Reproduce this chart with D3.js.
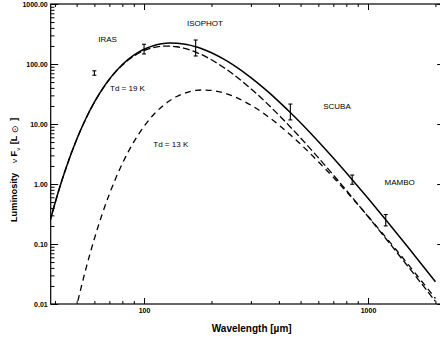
<!DOCTYPE html>
<html>
<head>
<meta charset="utf-8">
<script src="https://cdn.jsdelivr.net/npm/d3@7"></script>
<style>
  html, body { margin: 0; padding: 0; background: #fff; overflow: hidden; }
  svg { display: block; font-family: "Liberation Sans", Arial, Helvetica, sans-serif; }
</style>
</head>
<body>
<svg id="chart" width="440" height="339"></svg>
<script>
// Wavelength grid (µm) at which the SED curves are sampled
const wavelengths = [38, 40, 42, 45, 50, 55, 60, 65, 70, 80, 90, 100, 110, 120, 130, 140, 150, 160,
  170, 180, 200, 225, 250, 300, 350, 400, 450, 500, 600, 700, 800, 850, 1000, 1200, 1500, 2000];

// Total luminosity (sum of both dust components)
const totalSED = [0.238, 0.474, 0.873, 1.92, 5.50, 12.33, 23.07, 37.77, 55.89, 98.0, 140.3, 176.1, 201.7,
  217.2, 223.4, 222.5, 216.2, 206.4, 194.3, 181.1, 154.0, 122.7, 96.6, 59.38, 37.01, 23.64, 15.52,
  10.46, 5.106, 2.705, 1.533, 1.179, 0.577, 0.2531, 0.0906, 0.02341];

// Warm component, Td = 19 K
const warmSED = [0.238, 0.474, 0.873, 1.92, 5.49, 12.29, 22.95, 37.46, 55.21, 95.8, 135.3, 167.0, 187.6,
  197.8, 199.0, 193.8, 184.0, 171.8, 158.1, 144.2, 117.7, 89.4, 67.5, 38.77, 22.91, 14.04, 8.92,
  5.86, 2.746, 1.414, 0.785, 0.598, 0.287, 0.1235, 0.0434, 0.01106];

// Cold component, Td = 13 K
const coldSED = [0.000044, 0.000138, 0.000384, 0.00147, 0.00914, 0.0386, 0.1224, 0.313, 0.677, 2.193,
  5.03, 9.15, 14.13, 19.38, 24.38, 28.73, 32.17, 34.65, 36.21, 36.87, 36.31, 33.26, 29.05, 20.61,
  14.10, 9.60, 6.60, 4.61, 2.360, 1.291, 0.748, 0.581, 0.290, 0.1296, 0.0472, 0.01235];

// Photometry with error bars
const obsWavelength = [60, 100, 170, 450, 850, 1200];
const obsLow  = [65, 147, 136, 11.7, 0.99, 0.20];
const obsHigh = [77, 213, 251, 21.5, 1.41, 0.31];

// Instrument annotations (centre wavelength, baseline luminosity)
const instrumentNames = ["IRAS", "ISOPHOT", "SCUBA", "MAMBO"];
const instrumentWave  = [68.7, 187, 727, 1385];
const instrumentLum   = [235, 430, 17.6, 0.962];

// Temperature labels (start wavelength, baseline luminosity)
const tempLabels = ["Td = 19 K", "Td = 13 K"];
const tempWave   = [70.5, 110];
const tempLum    = [35.9, 4.09];

// Axis ticks
const xMajor = [100, 1000];
const xMinor = [40, 50, 60, 70, 80, 90, 200, 300, 400, 500, 600, 700, 800, 900, 2000];
const yMajor = [0.01, 0.1, 1, 10, 100, 1000];
const yMinor = [];
[0.01, 0.1, 1, 10, 100].forEach(d => { for (let k = 2; k <= 9; k++) yMinor.push(+(d * k).toPrecision(3)); });

const svg = d3.select("#chart");
// The plot box runs a few pixels past the right edge of the canvas
const plotL = 50.7, plotR = 444.7, plotT = 4, plotB = 304;

const x = d3.scaleLog().domain([38.3, 2200]).range([plotL, plotR]);
const y = d3.scaleLog().domain([0.01, 1000]).range([plotB, plotT]);

const fmtY = d => d.toFixed(2);
const fmtX = d => String(d);

// Clip region for curves
svg.append("clipPath").attr("id", "plotClip")
  .append("rect").attr("x", plotL).attr("y", plotT).attr("width", plotR - plotL).attr("height", plotB - plotT);

const xMajLen = 6, xMinLen = 3, yMajLen = 7.5, yMinLen = 3.8;

function styleAxis(g) {
  g.select(".domain").remove();
  g.selectAll(".tick line").attr("stroke", "#000").attr("stroke-width", 1);
}
function styleLabels(g) {
  g.selectAll("text").attr("font-size", 7).attr("font-weight", "bold").attr("fill", "#000")
    .attr("font-family", "Liberation Sans, Arial, sans-serif");
}

// Bottom axis
svg.append("g").attr("transform", `translate(0,${plotB})`)
  .call(d3.axisBottom(x).tickValues(xMajor).tickFormat(fmtX).tickSize(-xMajLen).tickPadding(4))
  .call(styleAxis).call(styleLabels);
svg.append("g").attr("transform", `translate(0,${plotB})`)
  .call(d3.axisBottom(x).tickValues(xMinor).tickFormat("").tickSize(-xMinLen))
  .call(styleAxis);
// Top axis
svg.append("g").attr("transform", `translate(0,${plotT})`)
  .call(d3.axisTop(x).tickValues(xMajor).tickFormat("").tickSize(-xMajLen))
  .call(styleAxis);
svg.append("g").attr("transform", `translate(0,${plotT})`)
  .call(d3.axisTop(x).tickValues(xMinor).tickFormat("").tickSize(-xMinLen))
  .call(styleAxis);
// Left axis
svg.append("g").attr("transform", `translate(${plotL},0)`)
  .call(d3.axisLeft(y).tickValues(yMajor).tickFormat(fmtY).tickSize(-yMajLen).tickPadding(3))
  .call(styleAxis).call(styleLabels);
svg.append("g").attr("transform", `translate(${plotL},0)`)
  .call(d3.axisLeft(y).tickValues(yMinor).tickFormat("").tickSize(-yMinLen))
  .call(styleAxis);
// Right axis
svg.append("g").attr("transform", `translate(${plotR},0)`)
  .call(d3.axisRight(y).tickValues(yMajor).tickFormat("").tickSize(-yMajLen))
  .call(styleAxis);
svg.append("g").attr("transform", `translate(${plotR},0)`)
  .call(d3.axisRight(y).tickValues(yMinor).tickFormat("").tickSize(-yMinLen))
  .call(styleAxis);

// Frame
svg.append("rect").attr("x", plotL).attr("y", plotT).attr("width", plotR - plotL).attr("height", plotB - plotT)
  .attr("fill", "none").attr("stroke", "#000").attr("stroke-width", 1.2);

// Curves
const line = vals => d3.line()
  .x((d, i) => x(wavelengths[i]))
  .y(d => y(d))
  .curve(d3.curveMonotoneX)(vals);

const curves = svg.append("g").attr("clip-path", "url(#plotClip)").attr("fill", "none").attr("stroke", "#000");
curves.append("path").attr("d", line(totalSED)).attr("stroke-width", 1.5);
curves.append("path").attr("d", line(warmSED)).attr("stroke-width", 1.3).attr("stroke-dasharray", "7,3");
curves.append("path").attr("d", line(coldSED)).attr("stroke-width", 1.3).attr("stroke-dasharray", "6,4.5");

// Error bars
const capW = 2;
const bars = svg.append("g").attr("stroke", "#000").attr("stroke-width", 1.1);
obsWavelength.forEach((w, i) => {
  const cx = x(w), y0 = y(obsLow[i]), y1 = y(obsHigh[i]);
  bars.append("line").attr("x1", cx).attr("x2", cx).attr("y1", y0).attr("y2", y1);
  bars.append("line").attr("x1", cx - capW).attr("x2", cx + capW).attr("y1", y0).attr("y2", y0);
  bars.append("line").attr("x1", cx - capW).attr("x2", cx + capW).attr("y1", y1).attr("y2", y1);
});

// Annotations
const ann = svg.append("g").attr("font-size", 8).attr("fill", "#000").attr("text-anchor", "middle");
instrumentNames.forEach((t, i) => {
  ann.append("text").attr("x", x(instrumentWave[i])).attr("y", y(instrumentLum[i])).text(t);
});
tempLabels.forEach((t, i) => {
  ann.append("text").attr("text-anchor", "start").attr("x", x(tempWave[i])).attr("y", y(tempLum[i])).text(t);
});

// Axis titles
svg.append("text").attr("x", 251.7).attr("y", 332).attr("text-anchor", "middle")
  .attr("font-size", 10).attr("font-weight", "bold").text("Wavelength [\u00b5m]");

const yt = svg.append("text").attr("transform", "translate(17.3,222) rotate(-90)")
  .attr("text-anchor", "start").attr("font-size", 9.2).attr("font-weight", "bold");
yt.append("tspan").text("Luminosity");
yt.append("tspan").attr("dx", 10).attr("font-weight", "normal").attr("font-size", 8).text("\u03bd");
yt.append("tspan").attr("dx", 2.5).text("F");
yt.append("tspan").attr("dy", 2.5).attr("font-weight", "normal").attr("font-size", 6).text("\u03bd");
yt.append("tspan").attr("dy", -2.5).attr("dx", 3.5).text("[L");
yt.append("tspan").attr("dx", 3).attr("dy", 0.5).attr("font-weight", "normal").attr("font-size", 9).text("\u2299");
yt.append("tspan").attr("dx", 4).attr("dy", -0.5).text("]");
</script>
</body>
</html>
